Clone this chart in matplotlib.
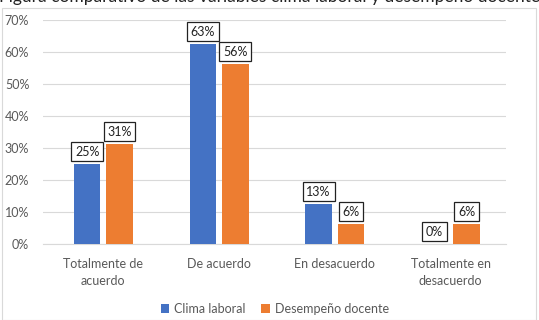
import matplotlib.pyplot as plt
from matplotlib.patches import Rectangle
import numpy as np

plt.rcParams['font.family'] = ['Lato', 'DejaVu Sans']

categorias = ['Totalmente de\nacuerdo', 'De acuerdo', 'En desacuerdo', 'Totalmente en\ndesacuerdo']
clima = [25.0, 62.5, 12.5, 0.0]
desempeno = [31.25, 56.25, 6.25, 6.25]
series = ['Clima laboral', 'Desempeño docente']
colores = ['#4472C4', '#ED7D31']
titulo = 'Figura comparativo de las variables clima laboral y desempeño docente'

fig = plt.figure(figsize=(5.39, 3.2), dpi=100)
ax = fig.add_axes([0.08, 0.2375, 0.859, 0.7])

# chart frame and clipped caption above it
fig.patches.append(Rectangle((0.004, 0.0), 0.99, 0.976, transform=fig.transFigure,
                             fill=False, edgecolor='#d9d9d9', linewidth=0.8))
fig.text(0.5, 1.008, titulo, ha='center', va='center', fontsize=12.5, color='#222222')

x = np.arange(len(categorias))
w = 0.23
gap = 0.05
for i, (vals, c) in enumerate(zip([clima, desempeno], colores)):
    pos = x + (i - 0.5) * (w + gap)
    ax.bar(pos, vals, width=w, color=c, label=series[i], zorder=3)
    for p, v in zip(pos, vals):
        ax.text(p, v + 2.0, '%d%%' % int(v + 0.5), ha='center', va='bottom', fontsize=9,
                color='#222222', zorder=4,
                bbox=dict(boxstyle='square,pad=0.3', fc='white', ec='#222222', lw=0.9))

ax.set_ylim(0, 70)
ax.set_xlim(-0.52, 3.48)
ax.set_yticks(range(0, 71, 10))
ax.set_yticklabels(['%d%%' % t for t in range(0, 71, 10)])
ax.set_xticks(x)
ax.set_xticklabels(categorias, linespacing=1.5)
ax.tick_params(axis='both', length=0, labelsize=9, labelcolor='#595959', pad=10)
ax.tick_params(axis='y', pad=10)
ax.grid(axis='y', color='#d9d9d9', linewidth=0.8, zorder=0)
for s in ['top', 'right', 'left']:
    ax.spines[s].set_visible(False)
ax.spines['bottom'].set_color('#d9d9d9')

ax.legend(loc='lower center', bbox_to_anchor=(0.5, -0.365), ncol=2, frameon=False,
          fontsize=9, labelcolor='#595959', handlelength=0.7, handleheight=0.7,
          columnspacing=1.2, handletextpad=0.4)

fig.savefig('out.png', dpi=100)
